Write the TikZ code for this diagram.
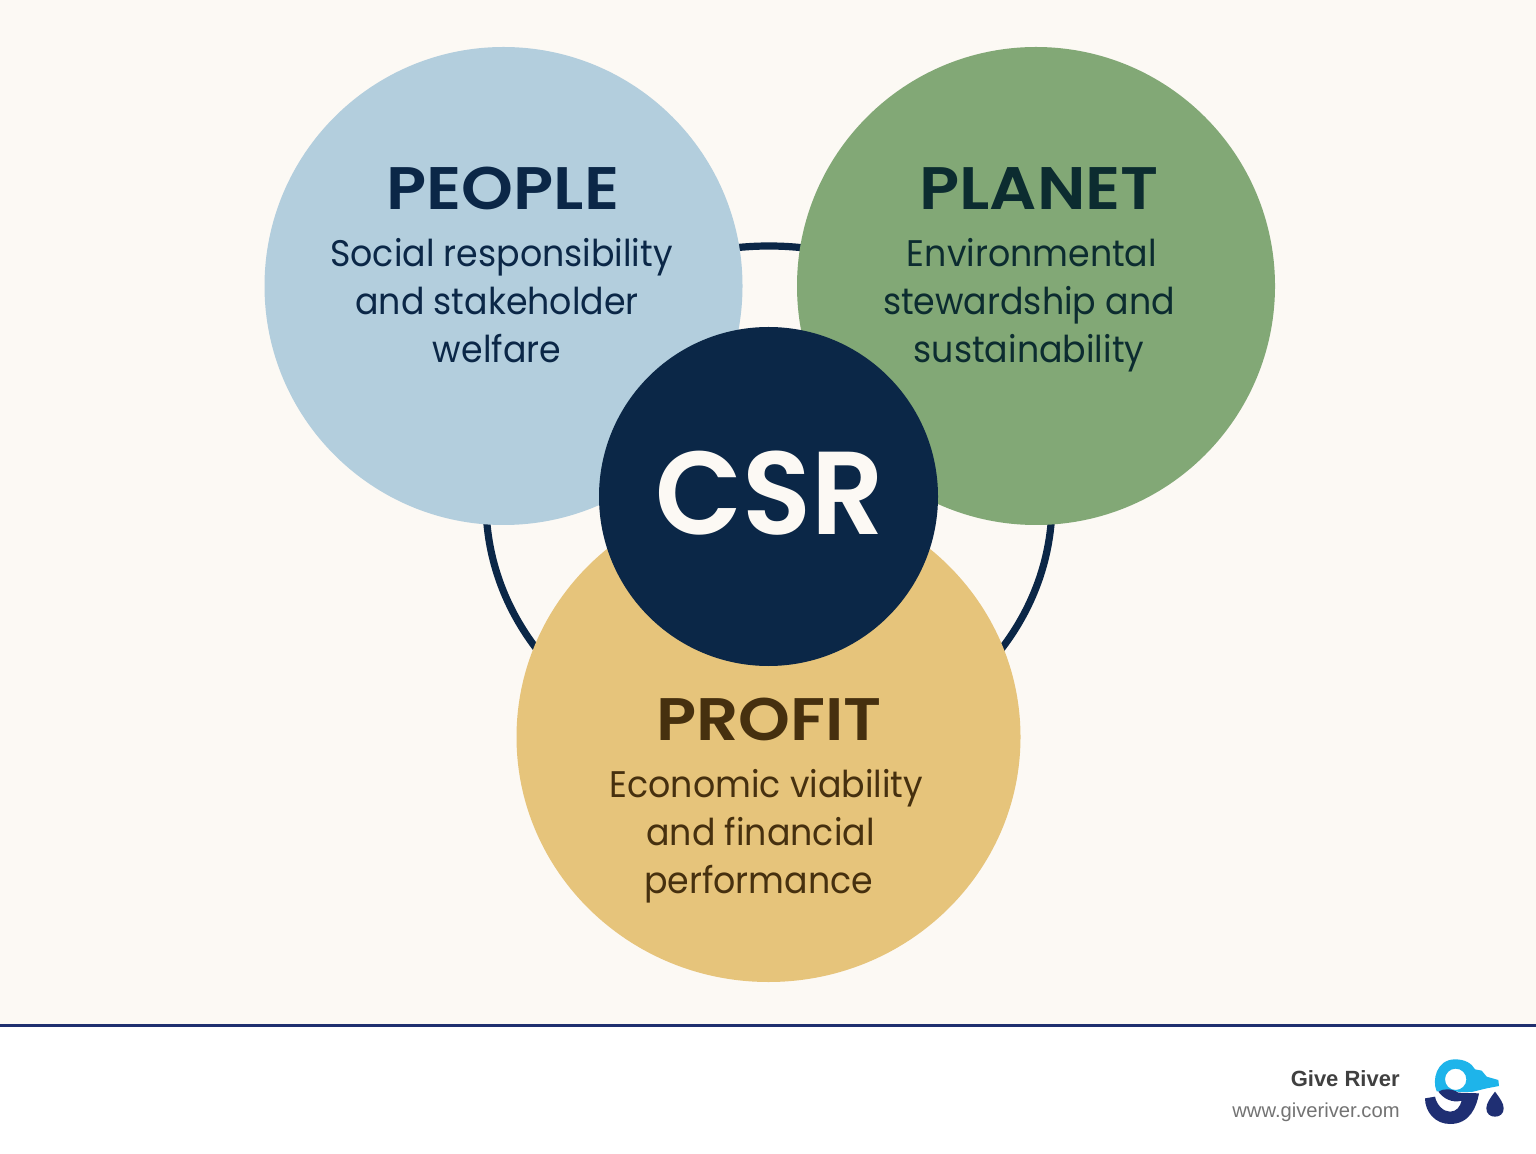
\documentclass[tikz,border=0pt]{standalone}
\usepackage{fontspec}
\setmainfont{Poppins}
\newfontfamily\headfont{Poppins}[UprightFont=* SemiBold,FakeStretch=1.1]
\newfontfamily\csrfont{Poppins}[UprightFont=* SemiBold,FakeStretch=0.96]
\newfontfamily\bodyfont{Poppins}[FakeStretch=0.94]
\newfontfamily\logofont{Liberation Sans}
\definecolor{cream}{HTML}{FCF9F4}
\definecolor{navy}{HTML}{0B2747}
\definecolor{rulecol}{HTML}{1F2F6F}
\definecolor{peoplecol}{HTML}{B3CEDD}
\definecolor{planetcol}{HTML}{82A876}
\definecolor{profitcol}{HTML}{E6C47B}
\definecolor{peopletxt}{HTML}{0B2747}
\definecolor{planettxt}{HTML}{0C2C30}
\definecolor{profittxt}{HTML}{46300F}
\definecolor{logolight}{HTML}{1EB4EA}
\definecolor{logodark}{HTML}{1F2F73}
\tikzset{
  disc/.style={circle,inner sep=0pt,outer sep=0pt,draw=none},
  heading/.style={font=\headfont\fontsize{30}{30}\selectfont,anchor=base,inner sep=0pt},
  body/.style={font=\bodyfont\fontsize{18.5}{24}\selectfont,align=center,anchor=base,inner sep=0pt},
}
\begin{document}
\begin{tikzpicture}[x=0.5pt,y=-0.5pt]
\useasboundingbox (0,0) rectangle (1536,1154);
\fill[cream] (0,0) rectangle (1536,1025);
\fill[white] (0,1025) rectangle (1536,1154);
\fill[rulecol] (0,1024) rectangle (1536,1027);
\node[draw=none,inner sep=0pt] (ringc) at (769,502.5) {};
\draw[navy,line width=3.6pt] (ringc) ellipse [x radius=283,y radius=256.5];
\node[disc,fill=peoplecol,minimum size=239pt] (people) at (503.5,286) {};
\node[disc,fill=planetcol,minimum size=239pt] (planet) at (1036,286) {};
\coordinate (profitc) at (768.5,737);
\fill[profitcol] (profitc) ellipse [x radius=252,y radius=245];
\node[disc,fill=navy,minimum size=169.5pt] (csr) at (768.5,496.5) {};
\node[anchor=base,inner sep=0pt,text=cream,font=\csrfont\fontsize{59}{59}\selectfont] (csrt) at (770,534.5) {CSR};
\node[heading,text=peopletxt] (pplh) at (503,210) {PEOPLE};
\node[heading,text=planettxt] (plah) at (1039,210) {PLANET};
\node[heading,text=profittxt] (proh) at (769,740) {PROFIT};
\node[body,text=peopletxt] (pplb) at (497,363) {\hspace*{4.5pt}Social responsibility\\and stakeholder\\welfare};
\node[body,text=planettxt] (plab) at (1029,363) {\hspace*{3pt}Environmental\\stewardship and\hspace*{3.5pt}\\sustainability};
\node[body,text=profittxt] (prob) at (760.5,893) {\hspace*{6pt}Economic viability\\and financial\\performance\hspace*{2pt}};
\node[anchor=base east,inner sep=0pt,font=\logofont\bfseries\fontsize{11}{12}\selectfont,text=black!75] (brand) at (1400,1086) {Give River};
\node[anchor=base east,inner sep=0pt,font=\logofont\fontsize{10.1}{12}\selectfont,text=black!55] (url) at (1400,1117) {www.giveriver.com};
\begin{scope}[shift={(1415,1050)},scale=1/3]
\fill[logolight,even odd rule] (65,124) .. controls (50,90) and (65,28) .. (120,28) .. controls (150,28) and (170,40) .. (180,58) -- (200,62) -- (215,80) -- (250,90) -- (252,108) -- (215,115) -- (170,126) -- cycle (122,88) circle [radius=32];
\fill[logodark] (70,125) .. controls (85,115) and (110,115) .. (130,128) -- (192,130) .. controls (185,170) and (165,222) .. (105,222) .. controls (60,222) and (30,185) .. (30,145) -- (60,140) .. controls (65,165) and (85,185) .. (105,185) .. controls (125,185) and (135,170) .. (140,152) .. controls (110,160) and (85,145) .. (70,125) -- cycle;
\fill[logodark] (240,125) .. controls (225,145) and (214,160) .. (214,175) .. controls (214,192) and (226,200) .. (240,200) .. controls (254,200) and (266,192) .. (266,175) .. controls (266,160) and (255,145) .. (240,125) -- cycle;
\end{scope}
\end{tikzpicture}
\end{document}
